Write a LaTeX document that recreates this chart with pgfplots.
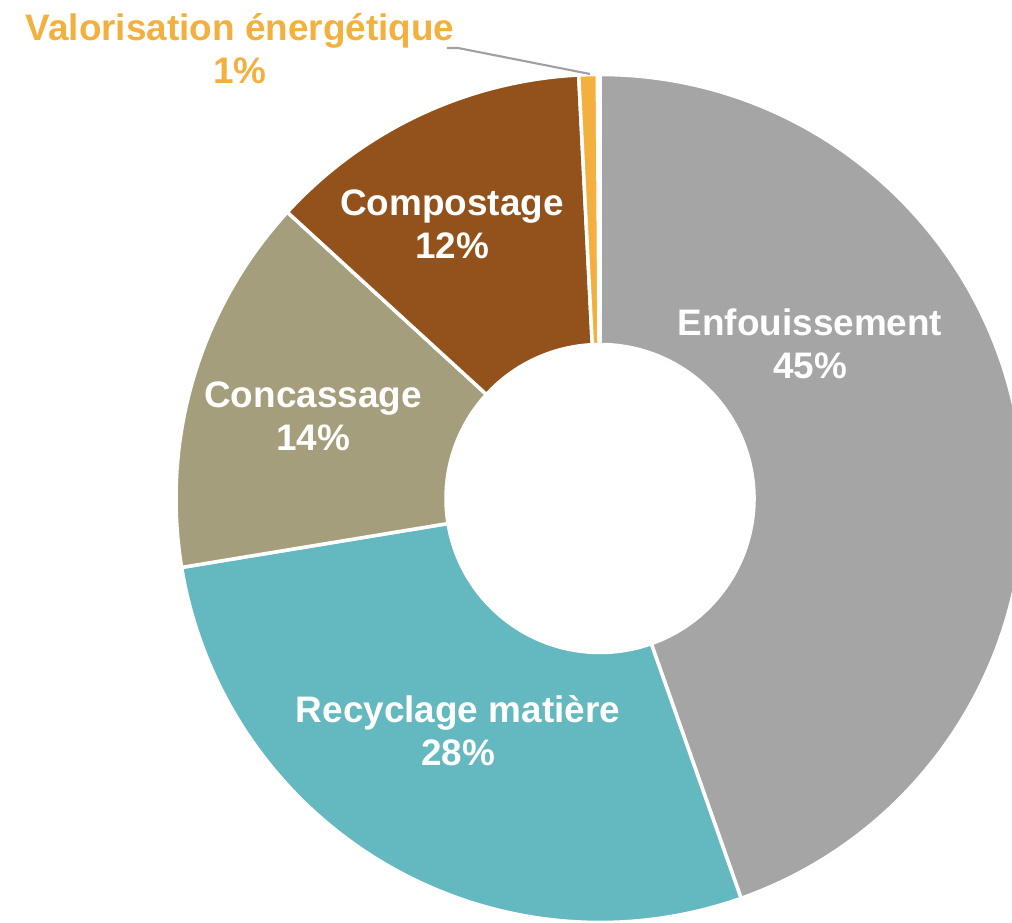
\documentclass[border=0pt]{standalone}
\usepackage{pgfplots}
\usepackage{pgfplotstable}
\pgfplotsset{compat=1.18}
\usepackage{fontspec}
\setmainfont{Liberation Sans}
\definecolor{c0}{HTML}{A5A5A5}
\definecolor{c1}{HTML}{64B8C0}
\definecolor{c2}{HTML}{A49E7C}
\definecolor{c3}{HTML}{93521B}
\definecolor{c4}{HTML}{F4B03E}
\definecolor{leader}{HTML}{A0A0A0}
\pgfplotstableread[col sep=comma]{
label,value,pct
Enfouissement,44.6,45
Recyclage matière,27.8,28
Concassage,14.4,14
Compostage,12.4,12
Valorisation énergétique,0.7,1
}\data
\pgfplotstablegetrowsof{\data}%
\pgfmathtruncatemacro{\N}{\pgfplotsretval-1}%
\gdef\angstart{90}%
\foreach \i in {0,...,\N}{%
  \pgfplotstablegetelem{\i}{value}\of\data%
  \pgfmathsetmacro{\a}{\angstart}%
  \pgfmathsetmacro{\b}{\angstart-3.6*\pgfplotsretval}%
  \expandafter\xdef\csname aS\i\endcsname{\a}%
  \expandafter\xdef\csname aE\i\endcsname{\b}%
  \xdef\angstart{\b}%
}%
\begin{document}%
\begin{tikzpicture}
\begin{axis}[hide axis, scale only axis, width=10.12cm, height=9.23cm,
  xmin=0, xmax=1012, ymin=0, ymax=923, clip=true]
\pgfplotsinvokeforeach{0,...,4}{
  \fill[c#1, draw=white, line width=1pt]
    (axis cs:600,424.5) ++(\csname aS#1\endcsname:4.24cm)
    arc[start angle=\csname aS#1\endcsname, end angle=\csname aE#1\endcsname, radius=4.24cm]
    -- ([shift={(\csname aE#1\endcsname:1.54cm)}]axis cs:600,424.5)
    arc[start angle=\csname aE#1\endcsname, end angle=\csname aS#1\endcsname, radius=1.54cm]
    -- cycle;
}
\tikzset{lbl/.style={font=\bfseries\fontsize{10.5}{12.3}\selectfont, text=white, align=center}}
\node[lbl] at (axis cs:810,579) {Enfouissement\\45\%};
\node[lbl] at (axis cs:458,192) {Recyclage matière\\28\%};
\node[lbl] at (axis cs:313,507) {Concassage\\14\%};
\node[lbl] at (axis cs:452,699) {Compostage\\12\%};
\node[lbl, text=c4] at (axis cs:240,874) {Valorisation énergétique\\1\%};
\draw[leader, line width=0.6pt] (axis cs:447,875) -- (axis cs:458,875) -- (axis cs:590,849);
\coordinate (bl) at (axis cs:0,0);
\coordinate (tr) at (axis cs:1012,923);
\end{axis}
\pgfresetboundingbox
\useasboundingbox (bl) rectangle (tr);
\end{tikzpicture}%
\end{document}
